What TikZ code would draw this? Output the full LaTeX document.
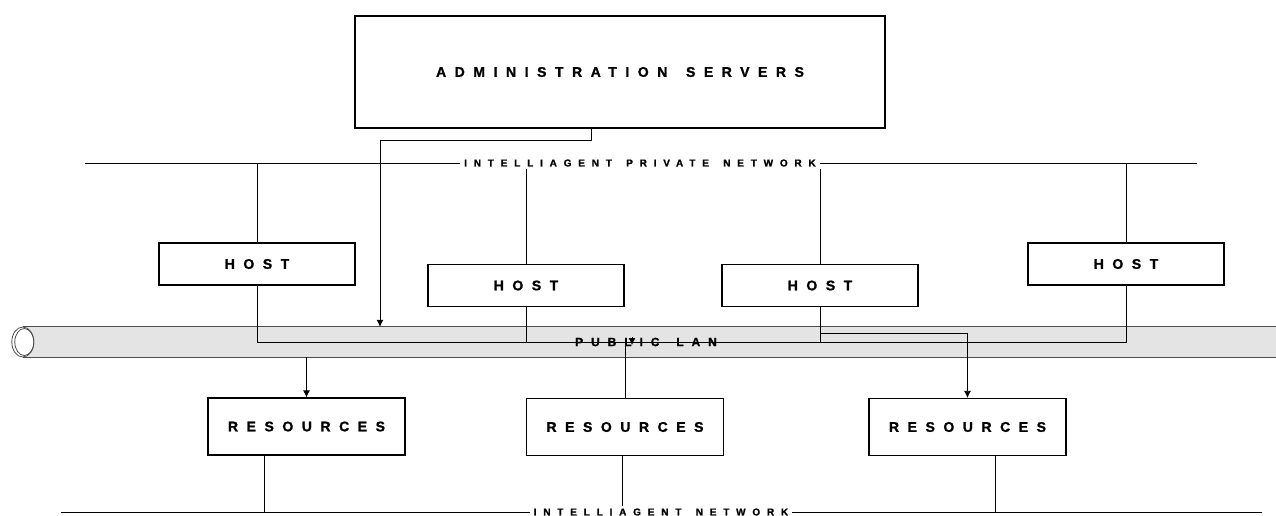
\documentclass[tikz,border=0pt]{standalone}
\usepackage{fontspec}
\usepackage{tikz}
\usetikzlibrary{arrows.meta}
\newfontfamily\boxfont[LetterSpace=61,WordSpace=1.5,BoldFont={Liberation Sans Bold},BoldFeatures={FakeBold=1.2}]{Liberation Sans}
\newfontfamily\netfont[LetterSpace=68,WordSpace=1.5,BoldFont={Liberation Sans Bold},BoldFeatures={FakeBold=1.2}]{Liberation Sans}
\newfontfamily\lanfont[LetterSpace=66,WordSpace=1.5,BoldFont={Liberation Sans Bold},BoldFeatures={FakeBold=1.2}]{Liberation Sans}
\definecolor{lanfill}{HTML}{E4E4E4}

\begin{document}
\begin{tikzpicture}[x=1pt,y=-1pt,
  box/.style={draw,line width=1.2pt,fill=white,inner sep=0pt,font=\boxfont\bfseries\fontsize{14}{16}\selectfont},
  hostbox/.style={box,minimum width=196pt,minimum height=42pt},
  resbox/.style={box,minimum width=197pt,minimum height=57pt},
  netlabel/.style={fill=white,inner xsep=4pt,inner ysep=2pt,font=\netfont\bfseries\fontsize{10}{12}\selectfont},
  lanlabel/.style={inner sep=0pt,font=\lanfont\bfseries\fontsize{12}{14}\selectfont},
  lanbody/.style={fill=lanfill,minimum width=1300pt,minimum height=30pt,inner sep=0pt},
  lanedge/.style={draw=black!70,line width=0.8pt},
  wire/.style={line width=0.8pt},
  arr/.style={wire,-{Latex[length=7pt,width=7pt]}}]
\useasboundingbox (0,0) rectangle (1276,515);

\node[lanbody] (lan) at (673,342) {};
\draw[lanedge] (lan.north west) -- (lan.north east) (lan.south west) -- (lan.south east);
\draw[lanedge,fill=white] (lan.west) ellipse (11 and 15);
\draw[lanedge] ([xshift=1.5pt]lan.west) ellipse (9.5 and 13.5);

\draw[wire] (85,163) -- (1197,163);
\node[netlabel] (ipn) at (640,163) {INTELLIAGENT PRIVATE NETWORK};

\node[box,minimum width=530pt,minimum height=112pt] (admin) at (620,72) {ADMINISTRATION SERVERS};
\node[hostbox] (h1) at (257,264) {HOST};
\node[hostbox] (h2) at (526,285.5) {HOST};
\node[hostbox] (h3) at (820,285.5) {HOST};
\node[hostbox] (h4) at (1126,264) {HOST};
\node[resbox] (r1) at (306.5,426.5) {RESOURCES};
\node[resbox] (r2) at (625,427) {RESOURCES};
\node[resbox] (r3) at (967.5,427) {RESOURCES};

\draw[wire] (admin.south -| 618,0) -- (admin.south -| 618,0 |- ipn.north);
\draw[arr] ([xshift=-29pt]admin.south) -- ++(0,12) -| (lan.north -| 380,0);
\draw[wire] (h1.north) -- (h1.north |- ipn);
\draw[wire] (h2.north) -- (h2.north |- ipn.south);
\draw[wire] (h3.north) -- (h3.north |- ipn.south);
\draw[wire] (h4.north) -- (h4.north |- ipn);

\draw[wire] (h1.south) |- (h4.south |- lan) -- (h4.south);
\draw[wire] (h2.south) -- (h2.south |- lan);
\draw[wire] (h3.south) -- (h3.south |- lan);
\draw[arr] (h3.south |- 0,333) -| (r3.north);
\draw[arr] (lan.south -| r1.north) -- (r1.north);
\draw[wire] (r2.north) -- (r2.north |- lan);
\draw[arr] (632,337) -- (632,345);
\node[lanlabel] (publan) at (646,342) {PUBLIC LAN};

\draw[wire] (61,512) -- (1262,512);
\node[netlabel] (inet) at (661,512) {INTELLIAGENT NETWORK};
\draw[wire] ([xshift=-42.5pt]r1.south) -- ([xshift=-42.5pt]r1.south |- inet);
\draw[wire] ([xshift=-3pt]r2.south) -- ([xshift=-3pt]r2.south |- inet.north);
\draw[wire] ([xshift=27.5pt]r3.south) -- ([xshift=27.5pt]r3.south |- inet);
\end{tikzpicture}
\end{document}
